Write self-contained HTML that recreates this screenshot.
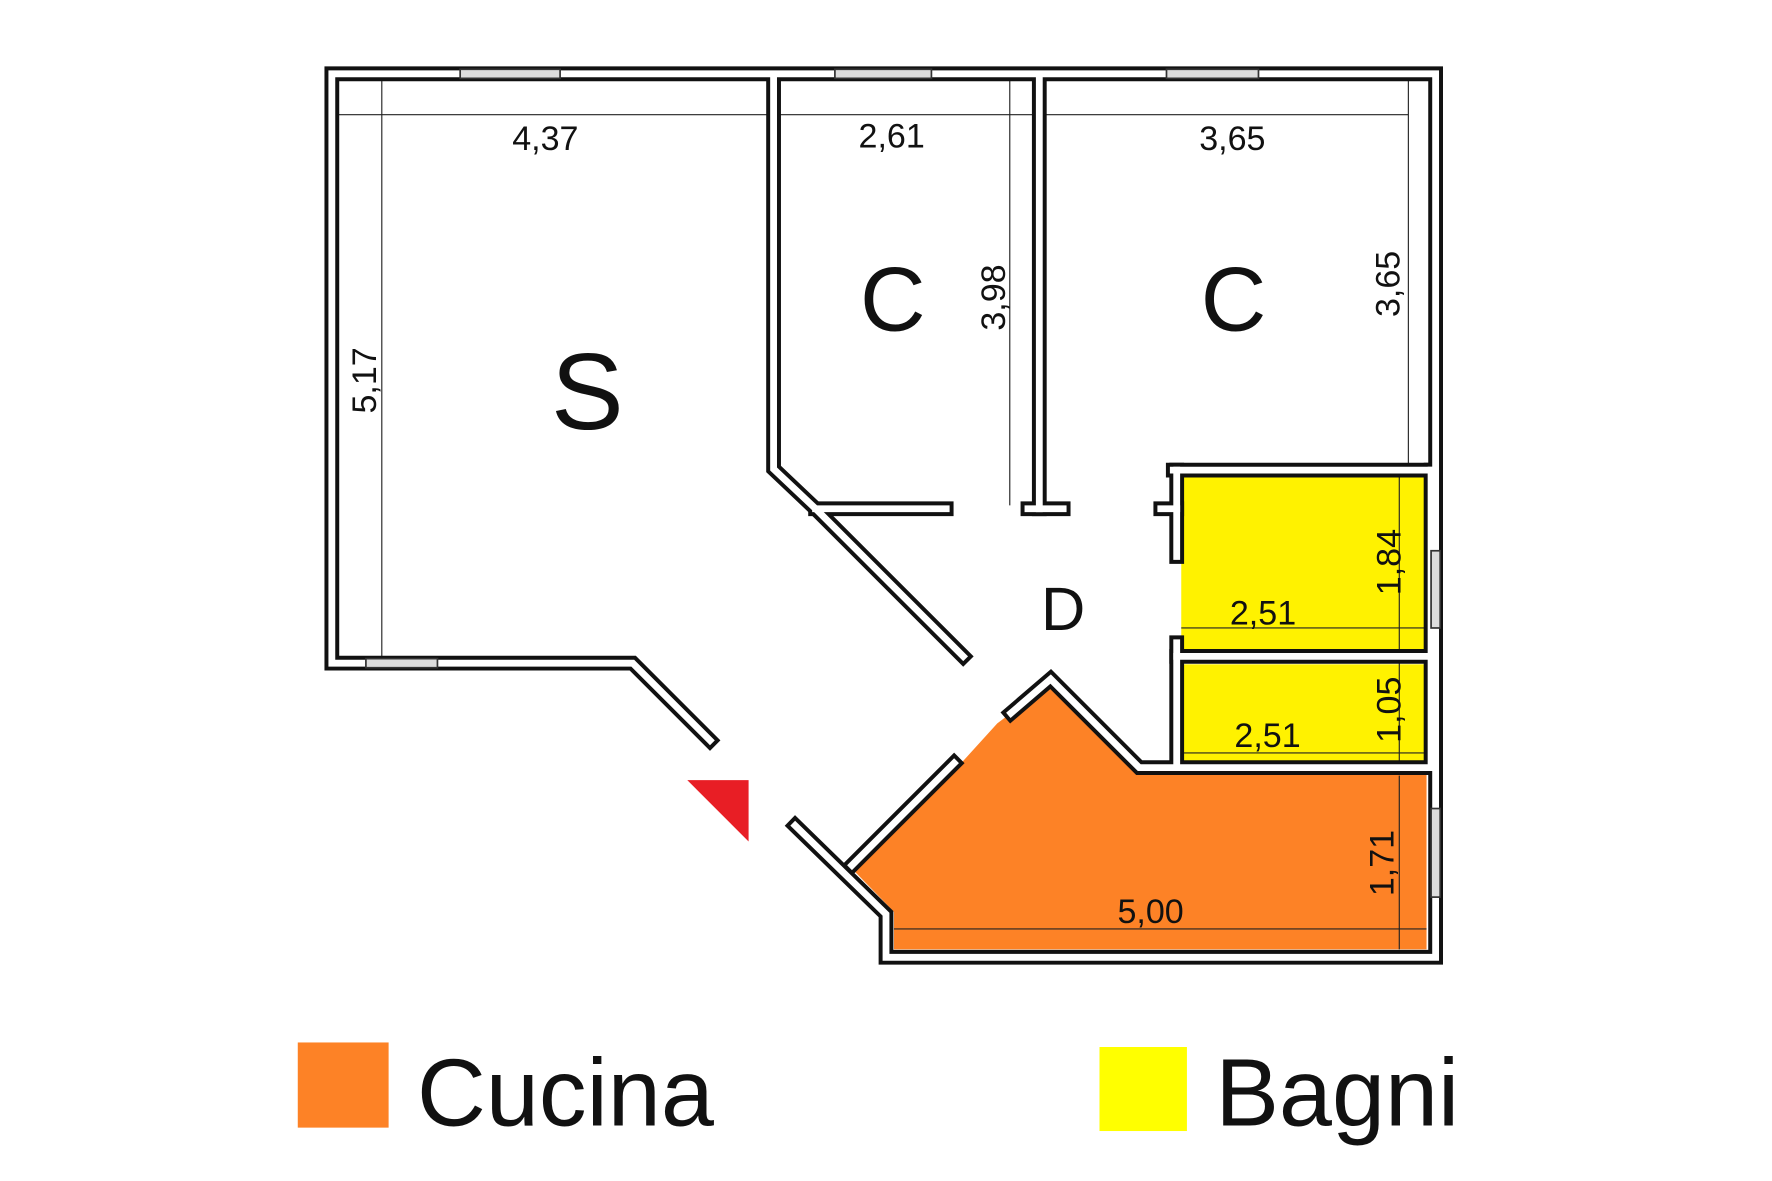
<!DOCTYPE html>
<html><head><meta charset="utf-8"><style>
html,body{margin:0;padding:0;background:#fff}
svg{display:block}
text{font-family:"Liberation Sans",sans-serif;fill:#111}
</style></head><body>
<svg width="1772" height="1181" viewBox="0 0 1560 1040" xmlns="http://www.w3.org/2000/svg">
<rect width="1560" height="1040" fill="#fff"/>
<polygon points="925,606 1003,682 1256,682 1256,836 787,836 787,803 752,767 848,670 878,637 890,628" fill="#fd8226"/>
<rect x="1040" y="420" width="217" height="152" fill="#fff200"/>
<rect x="1040" y="585" width="217" height="87" fill="#fff200"/>
<g stroke="#222" stroke-width="1" fill="none">
<line x1="292" y1="101" x2="1240" y2="101"/>
<line x1="336" y1="70" x2="336" y2="580"/>
<line x1="889" y1="70" x2="889" y2="445"/>
<line x1="1240" y1="70" x2="1240" y2="412"/>
<line x1="1040" y1="553" x2="1256" y2="553"/>
<line x1="1042" y1="663" x2="1256" y2="663"/>
<line x1="1232" y1="420" x2="1232" y2="672"/>
<line x1="787" y1="818" x2="1256" y2="818"/>
<line x1="1232" y1="683" x2="1232" y2="836"/>
</g>
<g fill="none" stroke-linejoin="miter" stroke-linecap="square">
<g stroke="#111" stroke-width="13">
<polyline points="625,652 557,584 292,584 292,65 1264,65 1264,843 780,843 780,805 700,727"/>
<polyline points="681,70 681,413 718,448 848,578"/>
<line x1="718" y1="448" x2="833" y2="448"/>
<polyline points="915,70 915,448"/><line x1="905" y1="448" x2="936" y2="448"/>
<polyline points="1033,414 1260,414"/>
<polyline points="1036,414 1036,490"/><line x1="1022" y1="448" x2="1036" y2="448"/>
<polyline points="1036,566 1036,672"/><line x1="1036" y1="578" x2="1260" y2="578"/>
<polyline points="1260,414 1260,676 1003,676 925,598 890,628"/>
<line x1="840" y1="672" x2="750" y2="762"/>
</g>
<g stroke="#fff" stroke-width="6">
<polyline points="625,652 557,584 292,584 292,65 1264,65 1264,843 780,843 780,805 700,727"/>
<polyline points="681,70 681,413 718,448 848,578"/>
<line x1="718" y1="448" x2="833" y2="448"/>
<polyline points="915,70 915,448"/><line x1="905" y1="448" x2="936" y2="448"/>
<polyline points="1033,414 1260,414"/>
<polyline points="1036,414 1036,490"/><line x1="1022" y1="448" x2="1036" y2="448"/>
<polyline points="1036,566 1036,672"/><line x1="1036" y1="578" x2="1260" y2="578"/>
<polyline points="1260,414 1260,676 1003,676 925,598 890,628"/>
<line x1="840" y1="672" x2="750" y2="762"/>
</g>
</g>
<g fill="#ddd" stroke="#333" stroke-width="1.5">
<rect x="405" y="61" width="88" height="8"/><rect x="735" y="61" width="85" height="8"/><rect x="1027" y="61" width="81" height="8"/>
<rect x="322" y="580" width="63" height="8"/>
<rect x="1260" y="485" width="8" height="68"/><rect x="1260" y="712" width="8" height="78"/>
</g>
<polygon points="605,687 659,687 659,741" fill="#e81e25"/>
<g font-size="30" text-anchor="middle">
<text x="480" y="132">4,37</text>
<text x="785" y="130">2,61</text>
<text x="1085" y="132">3,65</text>
<text x="1112" y="550">2,51</text>
<text x="1116" y="658">2,51</text>
<text x="1013" y="813">5,00</text>
<text transform="translate(331,335) rotate(-90)">5,17</text>
<text transform="translate(885,262) rotate(-90)">3,98</text>
<text transform="translate(1232,250) rotate(-90)">3,65</text>
<text transform="translate(1233,495) rotate(-90)">1,84</text>
<text transform="translate(1233,625) rotate(-90)">1,05</text>
<text transform="translate(1227,760) rotate(-90)">1,71</text>
</g>
<g text-anchor="middle">
<text x="517" y="378" font-size="96">S</text>
<text x="786" y="291" font-size="80">C</text>
<text x="1086" y="291" font-size="80">C</text>
<text x="936" y="555" font-size="54">D</text>
</g>
<rect x="262" y="918" width="80" height="75" fill="#fd8226"/>
<text x="367" y="991" font-size="84">Cucina</text>
<rect x="968" y="922" width="77" height="74" fill="#ffff00"/>
<text x="1070" y="991" font-size="84">Bagni</text>
</svg>
</body></html>
